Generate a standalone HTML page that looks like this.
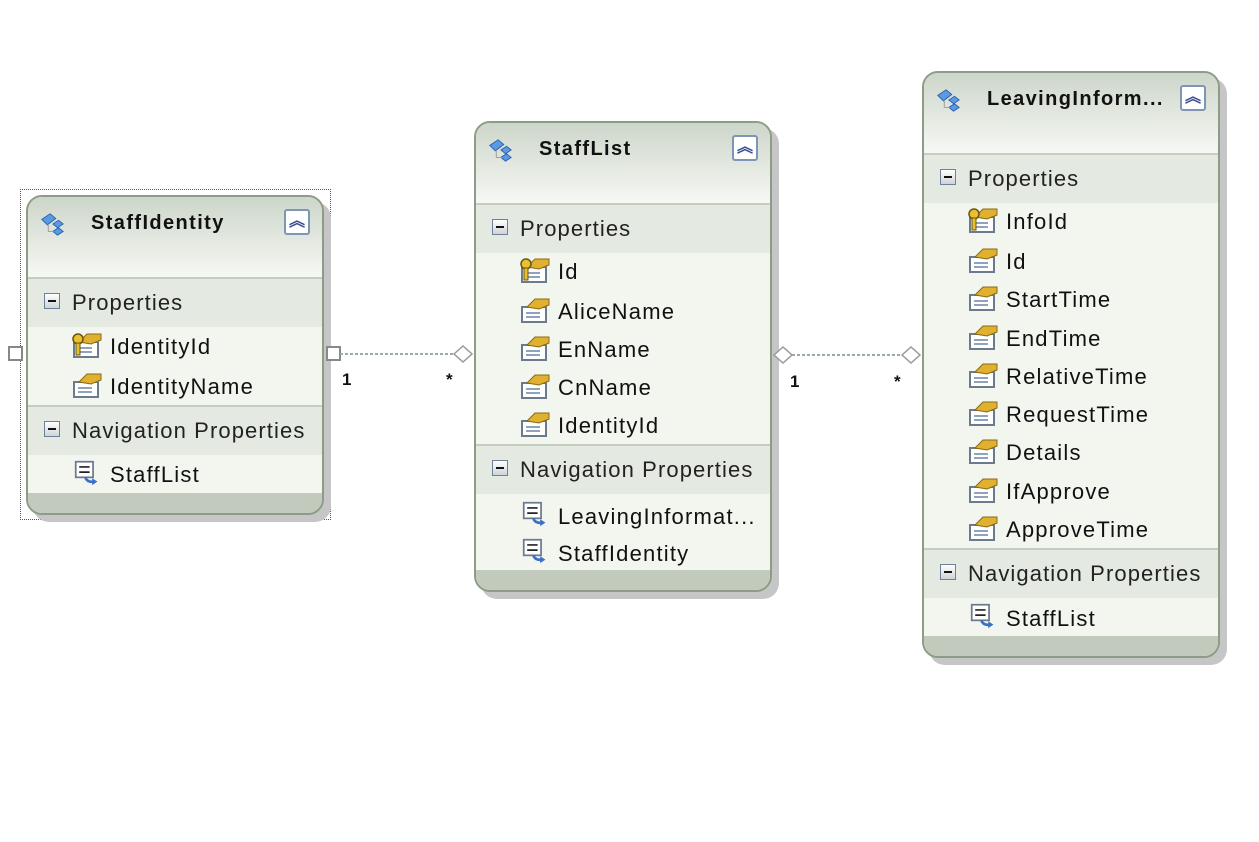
<!DOCTYPE html>
<html><head><meta charset="utf-8"><style>
body{margin:0;width:1259px;height:842px;background:#fff;position:relative;overflow:hidden;font-family:"Liberation Sans",sans-serif;}
.box{position:absolute;width:294px;border:2px solid #8d9c86;border-radius:16px;background:#f3f5ef;box-shadow:7px 7px 0 #c6c6c6;overflow:hidden;}
.hd{position:absolute;left:0;top:0;width:100%;height:80px;background:linear-gradient(#cdd6ca,#f6f8f4);border-bottom:2px solid #c5cdc1;}
.title{position:absolute;left:63px;top:15px;font-weight:bold;font-size:20px;color:#111;letter-spacing:1.4px;white-space:nowrap;}
.eico{position:absolute;left:10px;top:14px;width:28px;height:26px;}
.col{position:absolute;left:256px;top:12px;width:22px;height:22px;border:2px solid #7f95b5;border-radius:3px;background:#fff;color:#3a4f95;font-size:16px;line-height:22px;text-align:center;font-weight:bold;}
.sec{position:absolute;left:0;width:100%;height:48px;background:#e4e9e1;}
.sec span{position:absolute;left:44px;top:11px;font-size:22px;color:#222;letter-spacing:1.1px;white-space:nowrap;}
.minus{position:absolute;left:16px;top:14px;width:14px;height:14px;border:1px solid #6f8199;background:linear-gradient(#fff,#cfd3d6);}
.minus:after{content:"";position:absolute;left:3px;top:6px;width:8px;height:2px;background:#111;}
.div{position:absolute;left:0;width:100%;height:2px;background:#c5cdc1;}
.it{position:absolute;left:82px;font-size:22px;color:#111;white-space:nowrap;letter-spacing:1.2px;}
.pi{position:absolute;left:43px;width:32px;height:26px;}
.ft{position:absolute;left:0;bottom:0;width:100%;height:20px;background:#c1cabd;}
.lbl{position:absolute;font-weight:bold;font-size:17px;color:#111;}
</style></head><body>

<svg width="0" height="0" style="position:absolute">
<defs>
<g id="prop"><rect x="3" y="10" width="24" height="15" fill="#fff" stroke="#6b7a8c" stroke-width="2"/><rect x="7" y="15" width="14" height="2" fill="#8fa3bd"/><rect x="7" y="19" width="14" height="2" fill="#8fa3bd"/><path d="M8 10 L16 2 L30 2 L30 8 L20 12 Z" fill="#e0b030" stroke="#8a6a10"/></g>
<g id="key"><use href="#prop"/><circle cx="7" cy="7" r="5" fill="#e8c030" stroke="#6a5510" stroke-width="1.5"/><rect x="5" y="11" width="4" height="12" fill="#e8c030" stroke="#6a5510"/></g>
<g id="nav"><rect x="3" y="2" width="20" height="18" fill="#fff" stroke="#6b7a8c" stroke-width="2"/><path d="M7 8 H19 M7 14 H19" stroke="#222" stroke-width="2"/><path d="M14 20 Q16 26 24 25" fill="none" stroke="#3a70c8" stroke-width="3"/><path d="M22 21 L28 25 L22 29Z" fill="#3a70c8"/></g>
<g id="ent"><path d="M3 9 L12 3 L18 8 L9 15Z" fill="#5a9ae0" stroke="#2a60b0"/><path d="M15 14 L21 10 L26 14 L20 18Z" fill="#5a9ae0" stroke="#2a60b0"/><path d="M15 22 L21 18 L26 22 L20 26Z" fill="#5a9ae0" stroke="#2a60b0"/><path d="M10 14 V22 H16" fill="none" stroke="#999"/></g>
</defs></svg>

<div style="position:absolute;left:20px;top:189px;width:309px;height:329px;border:1px dotted #555;"></div>

<div class="box" style="left:26px;top:195px;height:316px;">
<div class="hd"></div><svg class="eico" viewBox="0 0 28 28"><use href="#ent"/></svg>
<div class="title">StaffIdentity</div><div class="col">︽</div>
<div class="sec" style="top:82px"><div class="minus"></div><span>Properties</span></div>
<svg class="pi" style="top:135px" viewBox="0 0 32 26"><use href="#key"/></svg><div class="it" style="top:137px">IdentityId</div>
<svg class="pi" style="top:175px" viewBox="0 0 32 26"><use href="#prop"/></svg><div class="it" style="top:177px">IdentityName</div>
<div class="div" style="top:208px"></div>
<div class="sec" style="top:210px"><div class="minus"></div><span>Navigation Properties</span></div>
<svg class="pi" style="top:263px" viewBox="0 0 32 30"><use href="#nav"/></svg><div class="it" style="top:265px">StaffList</div>
<div class="ft"></div>
</div>

<div class="box" style="left:474px;top:121px;height:467px;">
<div class="hd"></div><svg class="eico" viewBox="0 0 28 28"><use href="#ent"/></svg>
<div class="title">StaffList</div><div class="col">︽</div>
<div class="sec" style="top:82px"><div class="minus"></div><span>Properties</span></div>
<svg class="pi" style="top:134px" viewBox="0 0 32 26"><use href="#key"/></svg><div class="it" style="top:136px">Id</div>
<svg class="pi" style="top:174px" viewBox="0 0 32 26"><use href="#prop"/></svg><div class="it" style="top:176px">AliceName</div>
<svg class="pi" style="top:212px" viewBox="0 0 32 26"><use href="#prop"/></svg><div class="it" style="top:214px">EnName</div>
<svg class="pi" style="top:250px" viewBox="0 0 32 26"><use href="#prop"/></svg><div class="it" style="top:252px">CnName</div>
<svg class="pi" style="top:288px" viewBox="0 0 32 26"><use href="#prop"/></svg><div class="it" style="top:290px">IdentityId</div>
<div class="div" style="top:321px"></div>
<div class="sec" style="top:323px"><div class="minus"></div><span>Navigation Properties</span></div>
<svg class="pi" style="top:378px" viewBox="0 0 32 30"><use href="#nav"/></svg><div class="it" style="top:381px">LeavingInformat...</div>
<svg class="pi" style="top:415px" viewBox="0 0 32 30"><use href="#nav"/></svg><div class="it" style="top:418px">StaffIdentity</div>
<div class="ft"></div>
</div>

<div class="box" style="left:922px;top:71px;height:583px;">
<div class="hd"></div><svg class="eico" viewBox="0 0 28 28"><use href="#ent"/></svg>
<div class="title">LeavingInform...</div><div class="col">︽</div>
<div class="sec" style="top:82px"><div class="minus"></div><span>Properties</span></div>
<svg class="pi" style="top:134px" viewBox="0 0 32 26"><use href="#key"/></svg><div class="it" style="top:136px">InfoId</div>
<svg class="pi" style="top:174px" viewBox="0 0 32 26"><use href="#prop"/></svg><div class="it" style="top:176px">Id</div>
<svg class="pi" style="top:212px" viewBox="0 0 32 26"><use href="#prop"/></svg><div class="it" style="top:214px">StartTime</div>
<svg class="pi" style="top:251px" viewBox="0 0 32 26"><use href="#prop"/></svg><div class="it" style="top:253px">EndTime</div>
<svg class="pi" style="top:289px" viewBox="0 0 32 26"><use href="#prop"/></svg><div class="it" style="top:291px">RelativeTime</div>
<svg class="pi" style="top:327px" viewBox="0 0 32 26"><use href="#prop"/></svg><div class="it" style="top:329px">RequestTime</div>
<svg class="pi" style="top:365px" viewBox="0 0 32 26"><use href="#prop"/></svg><div class="it" style="top:367px">Details</div>
<svg class="pi" style="top:404px" viewBox="0 0 32 26"><use href="#prop"/></svg><div class="it" style="top:406px">IfApprove</div>
<svg class="pi" style="top:442px" viewBox="0 0 32 26"><use href="#prop"/></svg><div class="it" style="top:444px">ApproveTime</div>
<div class="div" style="top:475px"></div>
<div class="sec" style="top:477px"><div class="minus"></div><span>Navigation Properties</span></div>
<svg class="pi" style="top:530px" viewBox="0 0 32 30"><use href="#nav"/></svg><div class="it" style="top:533px">StaffList</div>
<div class="ft"></div>
</div>

<svg style="position:absolute;left:0;top:0" width="1259" height="842">
<rect x="9" y="347" width="13" height="13" fill="#fff" stroke="#888" stroke-width="2"/>
<rect x="327" y="347" width="13" height="13" fill="#fff" stroke="#888" stroke-width="2"/>
<line x1="340" y1="354" x2="455" y2="354" stroke="#9aa" stroke-width="2" stroke-dasharray="3,2"/>
<path d="M454 354 L463 346 L472 354 L463 362Z" fill="#fff" stroke="#999" stroke-width="1.5"/>
<path d="M774 355 L783 347 L792 355 L783 363Z" fill="#fff" stroke="#999" stroke-width="1.5"/>
<line x1="792" y1="355" x2="902" y2="355" stroke="#9aa" stroke-width="2" stroke-dasharray="3,2"/>
<path d="M902 355 L911 347 L920 355 L911 363Z" fill="#fff" stroke="#999" stroke-width="1.5"/>
</svg>
<div class="lbl" style="left:342px;top:370px">1</div>
<div class="lbl" style="left:446px;top:370px">*</div>
<div class="lbl" style="left:790px;top:372px">1</div>
<div class="lbl" style="left:894px;top:372px">*</div>
</body></html>
